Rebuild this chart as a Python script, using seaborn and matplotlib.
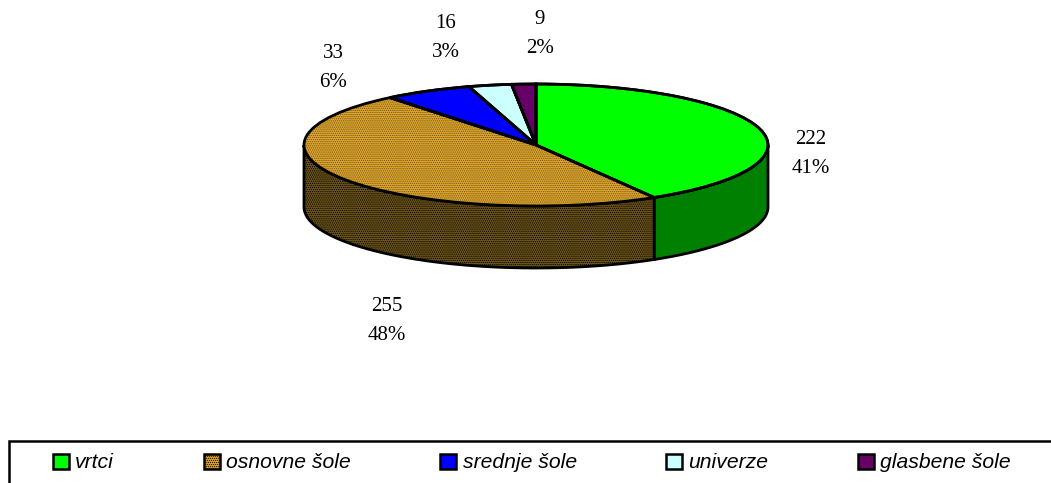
import numpy as np
import matplotlib
matplotlib.use("Agg")
import matplotlib.pyplot as plt
from matplotlib.patches import Rectangle
import seaborn as sns

categories = ["vrtci", "osnovne šole", "srednje šole", "univerze", "glasbene šole"]
values = [222, 255, 33, 16, 9]
percents = [41, 48, 6, 3, 2]
top_colors = ["#00ff00", "#dfa52c", "#0000ff", "#ccffff", "#660066"]
side_colors = ["#008000", "#6e5518", "#000080", "#668080", "#330033"]

sns.set_theme(style="white")
plt.rcParams["hatch.linewidth"] = 0.6

W, H = 1051, 483
CX, CY, RX, RY, DEPTH = 536, 145, 232, 61, 62
label_px = [(811, 154), (387, 321), (333, 68), (446, 38), (540, 34)]

fig = plt.figure(figsize=(W / 100, H / 100), dpi=100, facecolor="white")
ax = fig.add_axes([0, 0, 1, 1])

# top face
wedges, _ = ax.pie(values, startangle=90, counterclock=False, radius=1,
                   colors=top_colors,
                   wedgeprops=dict(edgecolor="black", linewidth=2, zorder=4))

d = DEPTH / RY
edges = np.concatenate([[0], np.cumsum(values)]) / np.sum(values) * 2 * np.pi
for i, col in enumerate(side_colors):
    lo, hi = max(edges[i], np.pi / 2), min(edges[i + 1], 3 * np.pi / 2)
    if lo >= hi:
        continue
    phi = np.linspace(lo, hi, 200)
    x, y = np.sin(phi), np.cos(phi)
    ax.fill(np.r_[x, x[::-1]], np.r_[y, y[::-1] - d], facecolor=col,
            edgecolor="black", linewidth=2, zorder=2,
            hatch="........" if i == 1 else None)

# hatch the orange wedge with a dark dot texture
wedges[1].set_hatch("........")
wedges[1].set_edgecolor("#6e5518")
wedges[1].set_linewidth(0)
ax.pie(values, startangle=90, counterclock=False, radius=1,
       colors=["none"] * 5,
       wedgeprops=dict(edgecolor="black", linewidth=2, zorder=5))
ax.set_aspect("auto")
ax.set_xlim(-CX / RX, (W - CX) / RX)
ax.set_ylim((CY - H) / RY, CY / RY)
ax.set_axis_off()

for v, p, (px, py) in zip(values, percents, label_px):
    fig.text(px / W, 1 - py / H, f"{v}\n{p}%", ha="center", va="center",
             family="Liberation Serif", fontsize=15, color="black",
             linespacing=1.72)

fig.add_artist(Rectangle((9 / W, -0.1), 1.1, 1 - 441 / H + 0.1,
                         transform=fig.transFigure, facecolor="none",
                         edgecolor="black", linewidth=1.8))
leg = fig.legend(wedges, categories, ncol=5, frameon=False,
                 loc="center left", bbox_to_anchor=(53 / W, 1 - 463 / H),
                 borderpad=0, borderaxespad=0, labelcolor="black",
                 prop=dict(family="Liberation Sans", style="italic", size=15.2),
                 handlelength=0.75, handleheight=0.7, handletextpad=0.3,
                 columnspacing=4.25)
for h in leg.legend_handles:
    h.set_edgecolor("black")
    h.set_linewidth(1.8)
leg.legend_handles[1].set_hatch("........")

fig.savefig("out.png", dpi=100)
